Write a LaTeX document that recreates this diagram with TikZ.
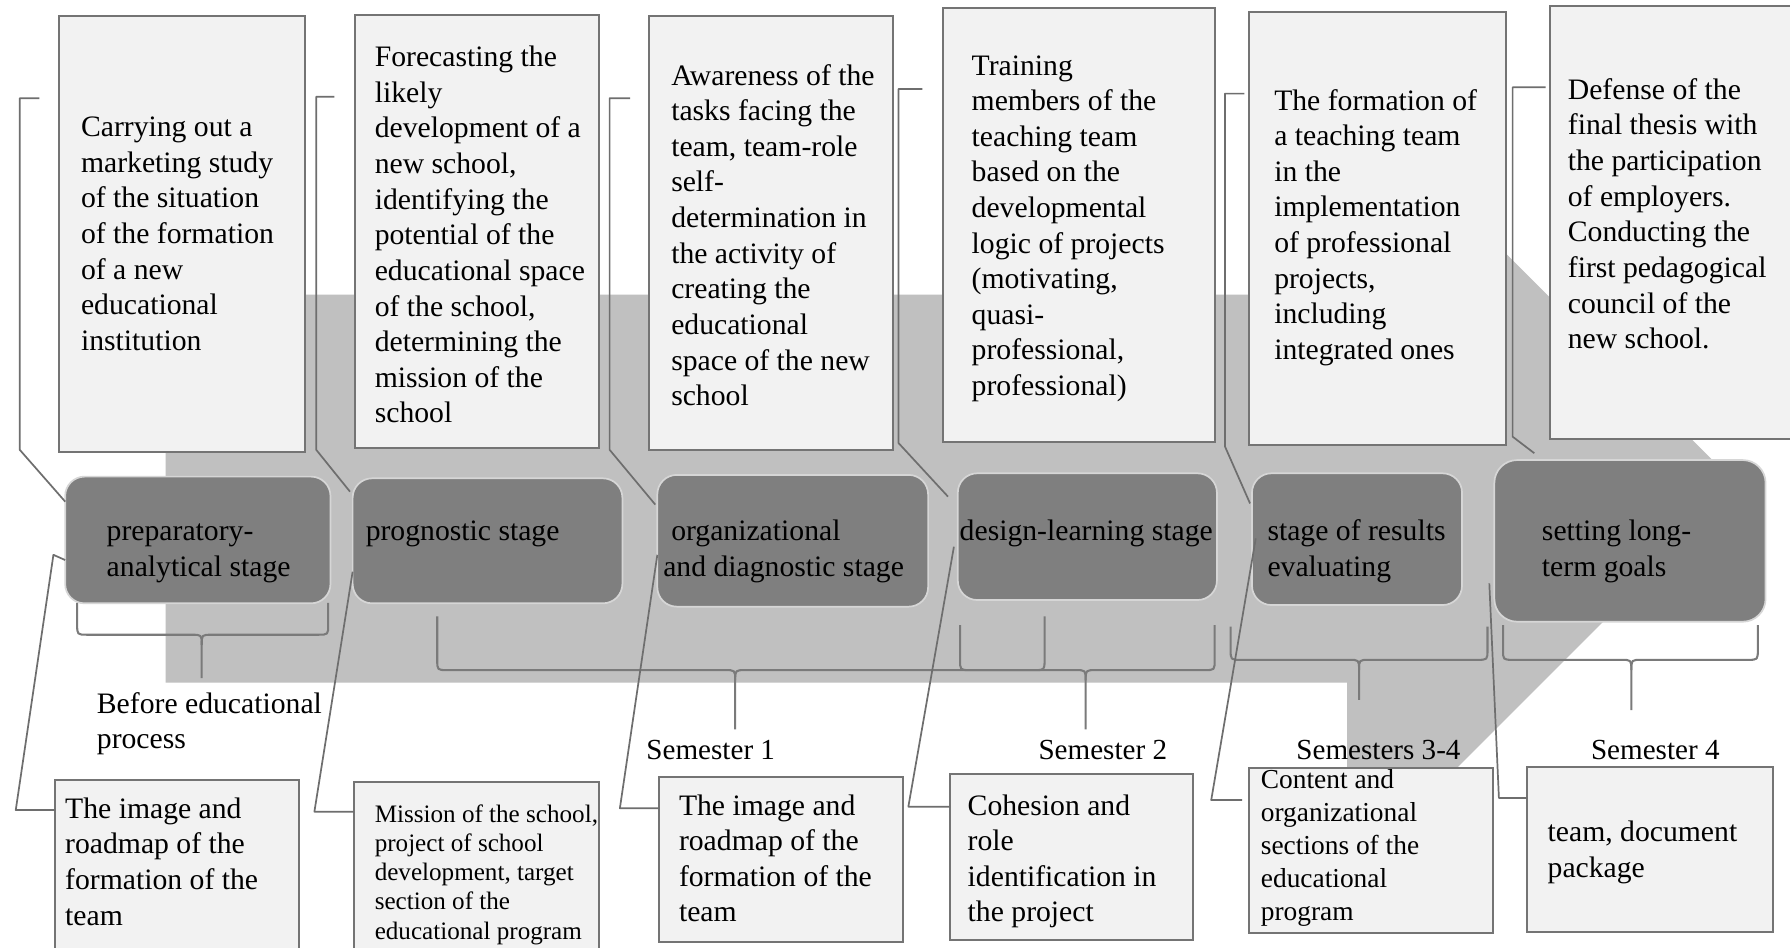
\documentclass[tikz,border=0pt]{standalone}
\usepackage{fontspec}
\setmainfont{Liberation Serif}
\newcommand{\fsz}[2]{\fontsize{#1pt}{#2pt}\selectfont}
\definecolor{arrowgray}{HTML}{C0C0C0}
\definecolor{stagefill}{HTML}{7F7F7F}
\definecolor{stageline}{HTML}{D6D6D6}
\definecolor{boxfill}{HTML}{F2F2F2}
\definecolor{boxline}{HTML}{747474}
\definecolor{connline}{HTML}{6E6E6E}
\definecolor{brkline}{HTML}{7A7A7A}
% x0 x1 ytop yh xc ytick
\newcommand{\mybrace}[6]{%
 \draw[brk] ({#1},{#3}) -- ({#1},{#4-9}) .. controls ({#1},{#4}) .. ({#1+9},{#4}) -- ({#5-9},{#4}) .. controls ({#5},{#4}) .. ({#5},{#4+9}) -- ({#5},{#6});
 \draw[brk] ({#5},{#4+9}) .. controls ({#5},{#4}) .. ({#5+9},{#4}) -- ({#2-9},{#4}) .. controls ({#2},{#4}) .. ({#2},{#4-9}) -- ({#2},{#3});}
\begin{document}
\begin{tikzpicture}[x=1pt,y=-1pt,
  tbox/.style={draw=boxline,line width=1.8pt,fill=boxfill,anchor=north west,inner sep=0pt,outer sep=0pt},
  stagebox/.style={draw=stageline,line width=1.5pt,fill=stagefill,anchor=north west,inner sep=0pt,outer sep=0pt,rounded corners=17pt},
  txt/.style={anchor=north west,inner sep=0pt,outer sep=0pt,align=left,font=\fsz{26}{31.2}},
  lbl/.style={anchor=base,inner sep=0pt,outer sep=0pt,font=\fsz{25.5}{30}},
  conn/.style={draw=connline,line width=1.5pt,line join=round},
  brk/.style={draw=brkline,line width=1.8pt,line join=round}]
\useasboundingbox (0,0) rectangle (1568,830);
\clip (0,0) rectangle (1568,830);
\fill[white] (0,0) rectangle (1568,830);
% background arrow
\fill[arrowgray] (145,258) -- (1180,258) -- (1180,83) -- (1523,426) -- (1180,769) -- (1180,598) -- (145,598) -- cycle;

% stage boxes
\node[stagebox,minimum width=232.4pt,minimum height=111pt] (s1) at (57.1,417.5) {};
\node[stagebox,minimum width=236.3pt,minimum height=109.5pt] (s2) at (308.9,419) {};
\node[stagebox,minimum width=237.2pt,minimum height=115.4pt] (s3) at (575.8,416) {};
\node[stagebox,minimum width=227pt,minimum height=111pt] (s4) at (839,414.6) {};
\node[stagebox,minimum width=184pt,minimum height=115.4pt] (s5) at (1096.7,414.6) {};
\node[stagebox,minimum width=237.6pt,minimum height=141.6pt,rounded corners=20pt] (s6) at (1309,403) {};

% top boxes
\node[tbox,minimum width=215.4pt,minimum height=381.7pt] (tA) at (52,14) {};
\node[tbox,minimum width=213.7pt,minimum height=379.6pt] (tB) at (311,13.1) {};
\node[tbox,minimum width=213.7pt,minimum height=380pt] (tC) at (568.9,14) {};
\node[tbox,minimum width=238pt,minimum height=379.6pt] (tD) at (826.2,7.3) {};
\node[tbox,minimum width=225.2pt,minimum height=379.6pt] (tE) at (1094,10.2) {};
\node[tbox,minimum width=240pt,minimum height=379.5pt] (tF) at (1357.4,5.3) {};

% bottom boxes
\node[tbox,minimum width=213pt,minimum height=170pt] (bA) at (48.5,683.3) {};
\node[tbox,minimum width=214.7pt,minimum height=170pt] (bB) at (310,684.7) {};
\node[tbox,minimum width=213.1pt,minimum height=144.6pt] (bC) at (577.5,680.3) {};
\node[tbox,minimum width=212.8pt,minimum height=145.1pt] (bD) at (832.2,678.3) {};
\node[tbox,minimum width=214pt,minimum height=144.6pt] (bE) at (1094,673) {};
\node[tbox,minimum width=214.8pt,minimum height=144.5pt] (bF) at (1338,671.6) {};

% braces
\mybrace{67.6}{287.5}{528}{556}{176.7}{594}
\mybrace{383}{915}{540}{587}{644}{639}
\mybrace{841}{1064}{547.5}{587}{951}{639}
\mybrace{1078}{1303}{549}{578}{1190.5}{613}
\mybrace{1316.6}{1539.8}{547.5}{578}{1429}{622}

% top connectors
\coordinate (cA) at (34.6,86);
\coordinate (cB) at (293,84.7);
\coordinate (cC) at (552,86);
\coordinate (cD) at (808,78);
\coordinate (cE) at (1090,82);
\coordinate (cF) at (1354,76.5);
\draw[conn] (cA) -- (17.3,86) -- (17.3,394) -- (s1.west |- 0,439.4);
\draw[conn] (cB) -- (277,84.7) -- (277,394) -- (306.6,430.7);
\draw[conn] (cC) -- (534,86) -- (534,394) -- (574,442);
\draw[conn] (cD) -- (787,78) -- (787,388) -- (830.4,435);
\draw[conn] (cE) -- (1073,82) -- (1073,391) -- (1095,441);
\draw[conn] (cF) -- (1325,76.5) -- (1325,382.5) -- (1344,397);

% bottom connectors
\draw[conn] (s1.west |- 0,490.6) -- (46.8,486) -- (13.8,709.6) -- (bA.west |- 0,709.6);
\draw[conn] (s2.west |- 0,500.8) -- (275.4,711) -- (bB.west |- 0,711);
\draw[conn] (s3.west |- 0,486) -- (543,708) -- (bC.west |- 0,708);
\draw[conn] (835.6,478.9) -- (795.7,706.6) -- (bD.west |- 0,706.6);
\draw[conn] (1100,471.6) -- (1061,700.8) -- (1088,700.8);
\draw[conn] (1304.6,511) -- (1313,699) -- (bF.west |- 0,699);

% top texts
\node[txt] (xA) at (71,97.9) {\strut Carrying out a\\marketing study\\of the situation\\of the formation\\of a new\\educational\\institution};
\node[txt] (xB) at (328.3,36.6) {\strut Forecasting the\\likely\\development of a\\new school,\\identifying the\\potential of the\\educational space\\of the school,\\determining the\\mission of the\\school};
\node[txt] (xC) at (588,52.7) {\strut Awareness of the\\tasks facing the\\team, team-role\\self-\\determination in\\the activity  of\\creating  the\\educational\\space of the new\\school};
\node[txt] (xD) at (851.2,43.9) {\strut Training\\members of the\\teaching team\\based on the\\developmental\\logic  of projects\\(motivating,\\quasi-\\professional,\\professional)};
\node[txt] (xE) at (1116.2,74.6) {\strut The formation of\\a teaching team\\in the\\implementation\\of professional\\projects,\\including\\integrated ones};
\node[txt] (xF) at (1373.4,65.2) {\strut Defense of the\\final thesis with\\the participation\\of employers.\\Conducting the\\first pedagogical\\council of the\\new school.};

% stage texts
\node[txt] (y1) at (93.5,451.7) {\strut preparatory-\\analytical stage};
\node[txt] (y2) at (320.4,451.7) {\strut prognostic stage};
\node[txt] (y3) at (581,451.7) {\strut\hspace*{7pt}organizational\\and diagnostic stage};
\node[txt] (y4) at (840.7,451.7) {\strut design-learning stage};
\node[txt] (y5) at (1110.3,451.7) {\strut stage of results\\evaluating};
\node[txt] (y6) at (1350.7,451.7) {\strut setting long-\\term goals};

% bottom texts
\node[txt] (zA) at (57.1,695) {\strut The image and\\roadmap of the\\formation of the\\team};
\node[txt,font=\fsz{22}{25.5}] (zB) at (328.3,702.75) {\strut Mission of the school,\\project of school\\development, target\\section of the\\educational program};
\node[txt] (zC) at (594.8,692.1) {\strut The image and\\roadmap of the\\formation of the\\team};
\node[txt] (zD) at (847.7,692.1) {\strut Cohesion and\\role\\identification in\\the project};
\node[txt,font=\fsz{24}{28.9}] (zE) at (1104.5,670.4) {\strut Content and\\organizational\\sections of the\\educational\\program};
\node[txt] (zF) at (1355.7,715.5) {\strut team, document\\package};

% period labels
\node[txt,font=\fsz{26}{30.6}] (p0) at (84.9,603.5) {\strut Before educational\\process};
\node[lbl] (p1) at (622.6,665.7) {Semester 1};
\node[lbl] (p2) at (966,665.7) {Semester 2};
\node[lbl] (p3) at (1207.5,665.7) {Semesters 3-4};
\node[lbl] (p4) at (1450,665.7) {Semester 4};
\end{tikzpicture}
\end{document}
